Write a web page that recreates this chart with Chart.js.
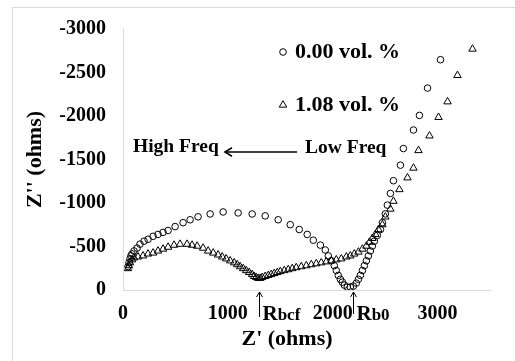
<!DOCTYPE html>
<html>
<head>
<meta charset="utf-8">
<script src="https://cdn.jsdelivr.net/npm/chart.js"></script>
<style>
  html, body { margin: 0; padding: 0; background: #fff; }
</style>
</head>
<body>
<canvas id="myChart" width="515" height="361"></canvas>
<script>
// 0.00 vol. % : Z' and Z'' (ohms)
var zReal0 = [48, 57, 67, 76, 86, 105, 134, 162, 201, 239, 287, 334, 382, 430, 497, 573, 640, 716, 831, 955,
  1098, 1232, 1356, 1480, 1595, 1681, 1757, 1815, 1882, 1929, 1958, 1987, 2015, 2034, 2053, 2073, 2092, 2111, 2139, 2168,
  2197, 2225, 2245, 2264, 2283, 2302, 2321, 2340, 2359, 2378, 2397, 2426, 2455, 2474, 2502, 2521, 2550, 2579, 2646, 2674,
  2770, 2827, 2904, 3028];
var zImag0 = [-269, -314, -359, -393, -415, -449, -482, -527, -561, -583, -617, -639, -662, -684, -729, -774, -807, -841, -874, -897,
  -886, -874, -852, -807, -751, -695, -639, -572, -516, -460, -392, -336, -280, -224, -168, -123, -90, -56, -34, -34,
  -45, -79, -123, -168, -224, -280, -336, -392, -449, -505, -561, -628, -695, -774, -875, -976, -1110, -1256, -1435, -1626,
  -1839, -2007, -2321, -2647];

// 1.08 vol. % : Z' and Z'' (ohms)
var zReal1 = [48, 57, 67, 86, 105, 143, 191, 239, 287, 334, 382, 430, 487, 544, 611, 659, 707, 764, 812, 860,
  907, 946, 984, 1022, 1060, 1089, 1117, 1146, 1175, 1203, 1232, 1251, 1270, 1289, 1309, 1328, 1356, 1385, 1413, 1442,
  1471, 1500, 1538, 1576, 1614, 1652, 1700, 1748, 1796, 1843, 1891, 1939, 1987, 2034, 2082, 2130, 2168, 2206, 2245, 2283,
  2321, 2350, 2378, 2407, 2436, 2474, 2502, 2550, 2579, 2636, 2713, 2770, 2818, 2923, 3009, 3095, 3190, 3333];
var zImag1 = [-247, -280, -314, -348, -370, -381, -393, -415, -426, -449, -471, -493, -516, -527, -527, -516, -505, -482, -449, -426,
  -404, -381, -359, -336, -314, -292, -269, -247, -224, -202, -179, -157, -146, -135, -135, -146, -157, -168, -179, -191,
  -202, -213, -224, -235, -247, -258, -269, -280, -292, -303, -314, -325, -336, -348, -359, -381, -393, -415, -437, -471,
  -505, -550, -594, -639, -695, -751, -841, -931, -1021, -1155, -1290, -1402, -1604, -1772, -1985, -2164, -2467, -2770];

var seriesNames = ['0.00 vol. %', '1.08 vol. %'];
var xTicks = [0, 1000, 2000, 3000];
var yTicks = [0, -500, -1000, -1500, -2000, -2500, -3000];
var rbcf = 1300;   // R_bcf marker on Z'
var rb0 = 2190;    // R_b0 marker on Z'

var serif = "'Times New Roman', 'Liberation Serif', serif";

function toPoints(xs, ys) {
    return xs.map(function (v, i) { return { x: v, y: ys[i] }; });
}

function arrowHead(ctx, x, y, dir, len) {
    // open arrow head, dir = 'up' or 'left'
    ctx.beginPath();
    if (dir === 'up') {
        ctx.moveTo(x - len * 0.6, y + len);
        ctx.lineTo(x, y);
        ctx.lineTo(x + len * 0.6, y + len);
    } else {
        ctx.moveTo(x + len, y - len * 0.6);
        ctx.lineTo(x, y);
        ctx.lineTo(x + len, y + len * 0.6);
    }
    ctx.stroke();
}

var notes = {
    id: 'notes',
    beforeDraw: function (chart) {
        var ctx = chart.ctx;
        ctx.save();
        ctx.strokeStyle = '#d9d9d9';
        ctx.lineWidth = 1;
        ctx.strokeRect(12.5, 7.5, 600, 600);
        ctx.restore();
    },
    afterDraw: function (chart) {
        var ctx = chart.ctx;
        var xs = chart.scales.x;
        var ds = chart.data.datasets;
        ctx.save();
        ctx.fillStyle = '#000';
        ctx.strokeStyle = '#000';
        ctx.lineWidth = 1;

        // legend inside the plot
        var rows = [52, 105];
        ds.forEach(function (d, i) {
            var cx = 283, cy = rows[i];
            ctx.beginPath();
            if (d.pointStyle === 'triangle') {
                var r = d.pointRadius;
                ctx.moveTo(cx, cy - r);
                ctx.lineTo(cx + r * 0.866, cy + r / 2);
                ctx.lineTo(cx - r * 0.866, cy + r / 2);
                ctx.closePath();
            } else {
                ctx.arc(cx, cy, d.pointRadius, 0, Math.PI * 2);
            }
            ctx.stroke();
            ctx.font = 'bold 22px ' + serif;
            ctx.textAlign = 'left';
            ctx.textBaseline = 'alphabetic';
            ctx.fillText(d.label, 295, cy + 6);
        });

        // frequency direction
        ctx.font = 'bold 19.5px ' + serif;
        ctx.fillText('High Freq', 133, 152);
        ctx.fillText('Low Freq', 305, 153);
        ctx.lineWidth = 1.6;
        ctx.beginPath();
        ctx.moveTo(225, 152);
        ctx.lineTo(297, 152);
        ctx.stroke();
        arrowHead(ctx, 225, 152, 'left', 7);

        // resistance markers
        ctx.lineWidth = 1;
        [[rbcf, 'bcf', 317], [rb0, 'b0', 314]].forEach(function (m) {
            var px = Math.round(xs.getPixelForValue(m[0])) + 0.5;
            ctx.beginPath();
            ctx.moveTo(px, 292);
            ctx.lineTo(px, m[2]);
            ctx.stroke();
            arrowHead(ctx, px, 292, 'up', 5);
            ctx.font = 'bold 21px ' + serif;
            ctx.fillText('R', px + 3, 320);
            var w = ctx.measureText('R').width;
            ctx.font = 'bold 17px ' + serif;
            ctx.fillText(m[1], px + 3 + w, 320);
        });

        // x axis title
        ctx.font = 'bold 22px ' + serif;
        ctx.textAlign = 'center';
        ctx.fillText("Z' (ohms)", 287, 345);
        ctx.restore();
    }
};

function plain(v) { return String(v); }

var chart = new Chart(document.getElementById('myChart').getContext('2d'), {
    type: 'scatter',
    data: {
        datasets: [{
            label: seriesNames[0],
            data: toPoints(zReal0, zImag0),
            pointStyle: 'circle',
            pointRadius: 3.3,
            borderColor: '#000',
            backgroundColor: 'rgba(0,0,0,0)',
            borderWidth: 1
        }, {
            label: seriesNames[1],
            data: toPoints(zReal1, zImag1),
            pointStyle: 'triangle',
            pointRadius: 4.3,
            borderColor: '#000',
            backgroundColor: 'rgba(0,0,0,0)',
            borderWidth: 1
        }]
    },
    options: {
        responsive: false,
        animation: false,
        devicePixelRatio: 1,
        layout: { padding: { top: 23, right: 25, bottom: 0, left: 0 } },
        plugins: { legend: { display: false }, tooltip: { enabled: false } },
        scales: {
            x: {
                type: 'linear',
                min: 0,
                max: 3500,
                afterBuildTicks: function (s) { s.ticks = xTicks.map(function (v) { return { value: v }; }); },
                afterFit: function (s) { s.height = 71; },
                grid: { display: false, drawTicks: false },
                border: { display: true, color: '#d9d9d9', width: 1 },
                ticks: { color: '#000', padding: 12, callback: plain, font: { family: serif, size: 20, weight: 'bold' } }
            },
            y: {
                type: 'linear',
                min: -3000,
                max: 0,
                reverse: true,
                afterBuildTicks: function (s) { s.ticks = yTicks.map(function (v) { return { value: v }; }); },
                afterFit: function (s) { s.width = 123; },
                grid: { display: false, drawTicks: false },
                border: { display: true, color: '#d9d9d9', width: 1 },
                ticks: { color: '#000', padding: 17, callback: plain, font: { family: serif, size: 20, weight: 'bold' } },
                title: {
                    display: true,
                    text: "Z'' (ohms)",
                    color: '#000',
                    padding: { top: 22, bottom: 0 },
                    font: { family: serif, size: 22, weight: 'bold' }
                }
            }
        }
    },
    plugins: [notes]
});
</script>
</body>
</html>
